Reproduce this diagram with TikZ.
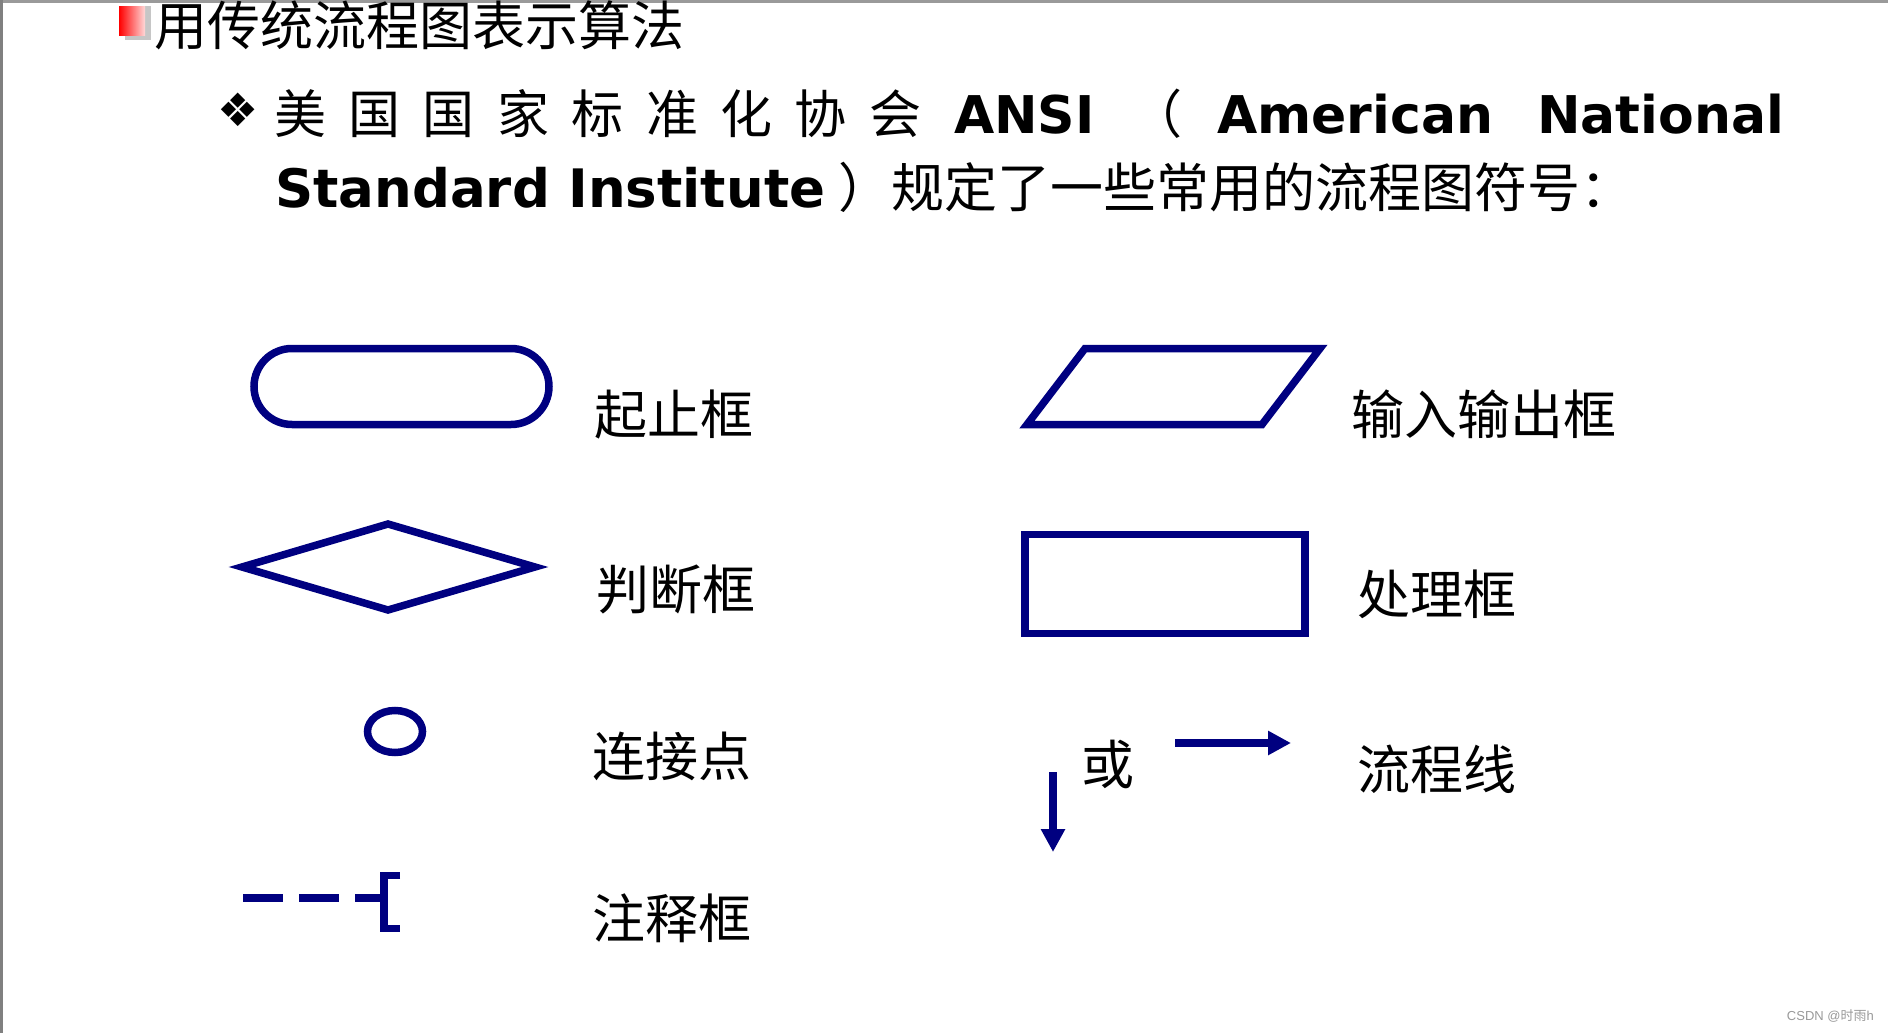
\documentclass[tikz,border=0pt]{standalone}
\usepackage{fontspec}
\setmainfont{DejaVu Sans}
\newfontfamily\cjk{Noto Sans CJK SC}
\newfontfamily\wmfont{Liberation Sans}
\usetikzlibrary{arrows.meta}
\definecolor{symblue}{HTML}{000080}
\definecolor{framegray}{HTML}{9A9A9A}
\newcommand\cjkgap{\hspace{22.4pt}}

\begin{document}
\begin{tikzpicture}[x=1pt,y=-1pt,
    sym/.style={draw=symblue, line width=7.5pt},
    txt/.style={anchor=base west, inner sep=0pt, font=\fontsize{52}{60}\selectfont},
    cjktxt/.style={anchor=base west, inner sep=0pt, font=\fontsize{52}{60}\selectfont\cjk},
    boldtxt/.style={anchor=base west, inner sep=0pt, font=\fontsize{52}{60}\selectfont\bfseries},
    lbl/.style={anchor=base west, inner sep=0pt, font=\fontsize{53}{60}\selectfont\cjk},
    flow/.style={draw=symblue, line width=7.5pt, -{Triangle[length=23pt,width=23pt]}}]
  \useasboundingbox (0,0) rectangle (1888,1033);
  % frame of the screenshot
  \fill[framegray] (0,0) rectangle (1888,3.5);
  \fill[gray] (0,0) rectangle (3,1033);
  % title with bullet
  \fill[gray!45] (125,6) rectangle (151,40);
  \shade[left color=red, right color=red!15] (119,7) rectangle (145,36);
  \node[cjktxt, font=\fontsize{53}{60}\selectfont\cjk] (title) at (154,46) {用传统流程图表示算法};
  % first item
  \node[txt, font=\fontsize{46}{60}\selectfont] (star) at (217,126) {❖};
  \node[cjktxt] (ansicn) at (274,133) {美\cjkgap 国\cjkgap 国\cjkgap 家\cjkgap 标\cjkgap 准\cjkgap 化\cjkgap 协\cjkgap 会};
  \node[boldtxt] (ansi) at (954,133) {ANSI};
  \node[cjktxt] (lparen) at (1130,133) {（};
  \node[boldtxt] (american) at (1217,133) {American};
  \node[boldtxt] (national) at (1537,133) {National};
  \node[boldtxt, font=\fontsize{53}{60}\selectfont\bfseries] (standard) at (275,207) {Standard Institute};
  \node[cjktxt, font=\fontsize{53}{60}\selectfont\cjk] (rule) at (838,207) {）规定了一些常用的流程图符号：};

  % left column
  \draw[sym, rounded corners=38pt] (254,348.5) rectangle (549,424.5);
  \node[lbl] (startstop) at (594,434) {起止框};
  \draw[sym] (242,567) -- (388,524) -- (535,567) -- (388,610) -- cycle;
  \node[lbl] (decision) at (596,609) {判断框};
  \draw[sym] (395,731.5) ellipse [x radius=27.5, y radius=21];
  \node[lbl] (connector) at (592,776) {连接点};
  \draw[sym, line width=8.5pt, dash pattern=on 40pt off 16pt] (243,898) -- (384,898);
  \draw[sym] (400,875.5) -- (384,875.5) -- (384,928.5) -- (400,928.5);
  \node[lbl] (comment) at (592,938) {注释框};

  % right column
  \draw[sym] (1085,348.5) -- (1320,348.5) -- (1262,424.5) -- (1027,424.5) -- cycle;
  \node[lbl] (inout) at (1351,434) {输入输出框};
  \draw[sym] (1025,534.5) rectangle (1305,633.5);
  \node[lbl] (process) at (1357,614) {处理框};
  \coordinate (hstart) at (1175,743);
  \coordinate (hend) at (1291,743);
  \coordinate (vstart) at (1053,772);
  \coordinate (vend) at (1053,852);
  \draw[flow] (hstart) -- (hend);
  \draw[flow] (vstart) -- (vend);
  \node[lbl] (orword) at (1081,784) {或};
  \node[lbl] (flowline) at (1357,789) {流程线};

  % watermark
  \node[anchor=base east, inner sep=0pt, font=\fontsize{13}{15}\selectfont\wmfont, text=gray!80] (mark) at (1874,1020) {CSDN @{\cjk 时雨}h};
\end{tikzpicture}
\end{document}
